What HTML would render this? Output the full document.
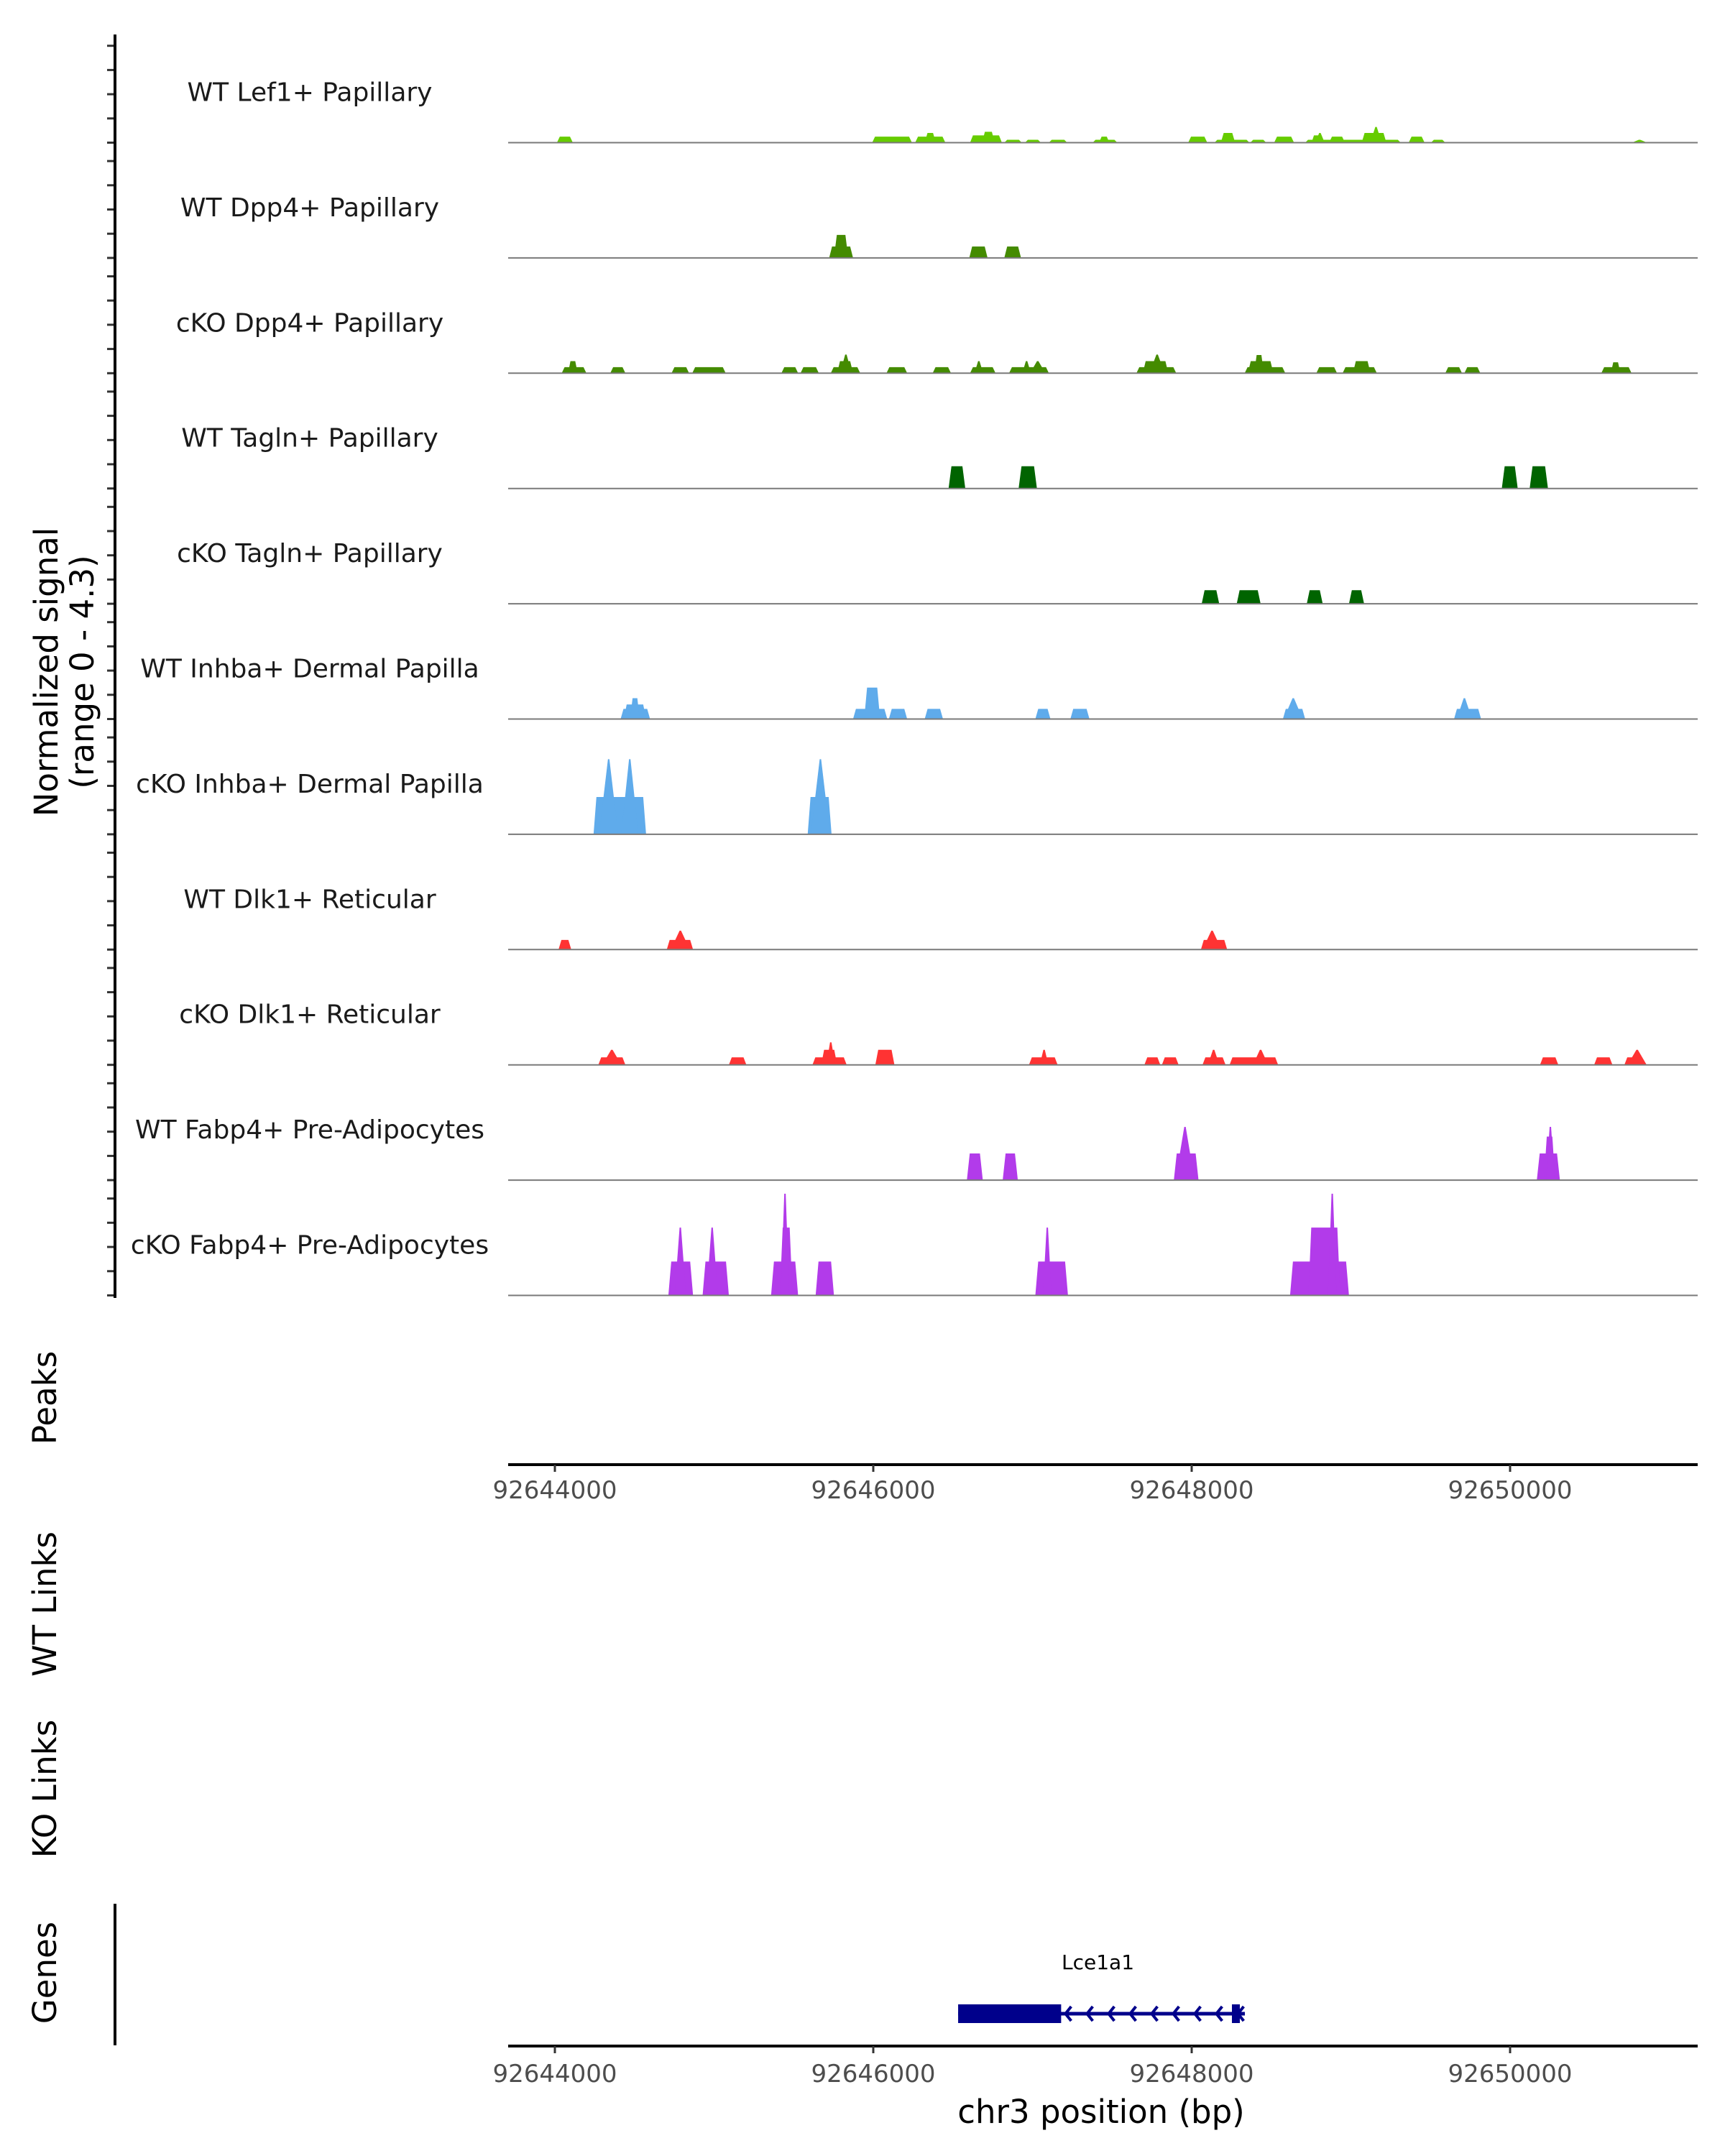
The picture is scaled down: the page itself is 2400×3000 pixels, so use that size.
<!DOCTYPE html>
<html><head><meta charset="utf-8"><style>
html,body{margin:0;padding:0;background:#fff}
svg{display:block}
text{font-family:"DejaVu Sans","Liberation Sans",sans-serif}
</style></head><body>
<svg id="chart" xmlns="http://www.w3.org/2000/svg" width="2400" height="3000" viewBox="0 0 2400 3000">
<g id="tracks"></g>
<g id="axes"></g>
</svg>
<script>
const trackNames = ["WT Lef1+ Papillary","WT Dpp4+ Papillary","cKO Dpp4+ Papillary","WT Tagln+ Papillary","cKO Tagln+ Papillary","WT Inhba+ Dermal Papilla","cKO Inhba+ Dermal Papilla","WT Dlk1+ Reticular","cKO Dlk1+ Reticular","WT Fabp4+ Pre-Adipocytes","cKO Fabp4+ Pre-Adipocytes"];
const trackColors = ["#66cc00","#448b00","#448b00","#006400","#006400","#5fabeb","#5fabeb","#ff3333","#ff3333","#b23bea","#b23bea"];
// each segment: [startBp, endBp, signal]
const lef1WT = [[92644040,92644140,0.25],[92646020,92646270,0.25],[92646290,92646480,0.25],[92646350,92646420,0.4],[92646635,92646835,0.3],[92646710,92646790,0.45],[92646850,92646960,0.12],[92646980,92647080,0.12],[92647130,92647245,0.12],[92647405,92647560,0.12],[92647445,92647510,0.25],[92648005,92648125,0.25],[92648170,92648390,0.12],[92648210,92648300,0.4],[92648395,92648495,0.12],[92648545,92648670,0.25],[92648740,92649340,0.12],[92648780,92648840,0.3],[92648820,92648845,0.4],[92648890,92648990,0.25],[92649095,92649250,0.4],[92649170,92649200,0.65],[92649390,92649490,0.25],[92649530,92649620,0.12],[92650820,92650860,0.12]];
const dpp4WT = [[92645750,92645900,0.47],[92645780,92645870,0.95],[92646630,92646745,0.47],[92646850,92646955,0.47]];
const dpp4KO = [[92644070,92644225,0.25],[92644110,92644170,0.5],[92644375,92644470,0.25],[92644760,92644870,0.25],[92644890,92645100,0.25],[92645450,92645555,0.25],[92645570,92645685,0.25],[92645760,92645945,0.25],[92645800,92645900,0.5],[92645840,92645870,0.77],[92646110,92646240,0.25],[92646400,92646515,0.25],[92646635,92646795,0.25],[92646680,92646700,0.5],[92646880,92647130,0.25],[92646985,92646995,0.5],[92647040,92647080,0.5],[92647680,92647930,0.25],[92647720,92647880,0.5],[92647790,92647830,0.77],[92648360,92648615,0.25],[92648380,92648540,0.5],[92648420,92648480,0.75],[92648810,92648940,0.25],[92648975,92649190,0.25],[92649040,92649150,0.5],[92649620,92649725,0.25],[92649740,92649840,0.25],[92650600,92650790,0.25],[92650660,92650720,0.45]];
const taglnWT = [[92646500,92646605,0.92],[92646940,92647055,0.92],[92649975,92650075,0.92],[92650150,92650265,0.92]];
const taglnKO = [[92648090,92648200,0.56],[92648310,92648460,0.56],[92648750,92648850,0.56],[92649015,92649110,0.56]];
const inhbaWT = [[92644440,92644625,0.42],[92644460,92644600,0.6],[92644500,92644560,0.86],[92645900,92646115,0.42],[92645970,92646070,1.3],[92646125,92646240,0.42],[92646350,92646465,0.42],[92647045,92647140,0.42],[92647265,92647385,0.42],[92648600,92648740,0.42],[92648640,92648690,0.86],[92649675,92649845,0.42],[92649720,92649760,0.86]];
const inhbaKO = [[92644270,92644600,1.54],[92644340,92644390,3.1],[92644475,92644520,3.1],[92645615,92645765,1.54],[92645670,92645720,3.1]];
const dlk1WT = [[92644050,92644130,0.4],[92644730,92644895,0.4],[92644790,92644840,0.78],[92648085,92648250,0.4],[92648130,92648180,0.78]];
const dlk1KO = [[92644300,92644470,0.31],[92644360,92644410,0.62],[92645120,92645230,0.31],[92645645,92645860,0.31],[92645700,92645800,0.62],[92645750,92645770,0.93],[92646040,92646160,0.62],[92647005,92647185,0.31],[92647090,92647110,0.62],[92647730,92647830,0.31],[92647840,92647945,0.31],[92648095,92648240,0.31],[92648150,92648180,0.62],[92648265,92648570,0.31],[92648440,92648480,0.62],[92650215,92650330,0.31],[92650555,92650670,0.31],[92650745,92650850,0.31],[92650800,92650850,0.62]];
const fabp4WT = [[92646615,92646715,1.1],[92646840,92646935,1.1],[92647915,92648070,1.1],[92647960,92648010,2.2],[92650195,92650340,1.1],[92650240,92650310,1.8],[92650270,92650290,2.2]];
const fabp4KO = [[92644740,92644895,1.4],[92644800,92644830,2.8],[92644955,92645120,1.4],[92645000,92645030,2.8],[92645385,92645555,1.4],[92645440,92645520,2.8],[92645465,92645480,4.2],[92645665,92645780,1.4],[92647045,92647250,1.4],[92647110,92647130,2.8],[92648645,92649015,1.4],[92648760,92648960,2.8],[92648900,92648920,4.2]];
const xTicks = [92644000,92646000,92648000,92650000];
const yTicks = [0,1,2,3,4];
const gene = ["Lce1a1",92646533,92647180,92648334];

const allTracks=[lef1WT,dpp4WT,dpp4KO,taglnWT,taglnKO,inhbaWT,inhbaKO,dlk1WT,dlk1KO,fabp4WT,fabp4KO];
const NS="http://www.w3.org/2000/svg";
const xs = bp => 772 + (bp-92644000)*0.2215;
const MARK_SHIFT = -6;
const base = i => 198.5 + 160.4*i;
const ys = (i,v) => base(i) - v*33.7;
function mk(tag, attrs, parent){const e=document.createElementNS(NS,tag);for(const k in attrs)e.setAttribute(k,attrs[k]);parent.appendChild(e);return e;}
const T=document.getElementById('tracks'), A=document.getElementById('axes');

allTracks.forEach((segs,i)=>{
  const lbl=mk('text',{x:431,y:base(i)-58,'text-anchor':'middle','font-size':36,fill:'#1a1a1a'},T);
  lbl.textContent=trackNames[i];
  
  
  segs.forEach(s=>{
    let x0=xs(s[0])+MARK_SHIFT,x1=xs(s[1])+MARK_SHIFT;
    const y=ys(i,s[2]),b=base(i);
    let pts;
    if(x1-x0<12){
      const c=(x0+x1)/2, hw=Math.max(6,(x1-x0)*1.2);
      pts=`${c-hw},${b} ${c-1},${y} ${c+1},${y} ${c+hw},${b}`;
    } else {
      const t=Math.min(4,(x1-x0)/4);
      pts=`${x0},${b} ${x0+t},${y} ${x1-t},${y} ${x1},${b}`;
    }
    const p=mk('polygon',{points:pts,fill:trackColors[i]},T);
    
    
  });
  const bl=mk('line',{x1:707,x2:2362,y1:base(i),y2:base(i),stroke:'#7a7a7a','stroke-width':2},T);
  
  
  yTicks.forEach(v=>{
    const tk=mk('line',{x1:149,x2:160,y1:ys(i,v),y2:ys(i,v),stroke:'#333','stroke-width':3},A);
    
    
  });
});
const ax=mk('line',{x1:160,x2:160,y1:48,y2:1806,stroke:'#000','stroke-width':4},A);


const gax=mk('line',{x1:160,x2:160,y1:2649,y2:2846,stroke:'#000','stroke-width':4},A);


const yt=mk('text',{transform:'translate(80,935) rotate(-90)','text-anchor':'middle','font-size':45,fill:'#000'},A);
yt.textContent='Normalized signal';


const yt2=mk('text',{transform:'translate(130,935) rotate(-90)','text-anchor':'middle','font-size':45,fill:'#000'},A);
yt2.textContent='(range 0 - 4.3)';


[["Peaks",1945],["WT Links",2232],["KO Links",2489],["Genes",2745]].forEach(([t,y])=>{
  const e=mk('text',{transform:`translate(78,${y}) rotate(-90)`,'text-anchor':'middle','font-size':45,fill:'#000'},A);
  e.textContent=t;
  
  
});
[[2038,2085],[2847,2897]].forEach(([ay,ly])=>{
  const l=mk('line',{x1:707,x2:2362,y1:ay,y2:ay,stroke:'#000','stroke-width':4},A);
  
  
  xTicks.forEach(v=>{
    const tk=mk('line',{x1:xs(v),x2:xs(v),y1:ay,y2:ay+10,stroke:'#333','stroke-width':3},A);
    
    
    const tl=mk('text',{x:xs(v),y:ly,'text-anchor':'middle','font-size':34,fill:'#4d4d4d'},A);
    tl.textContent=String(v);
    
    
  });
});
const xt=mk('text',{x:1532,y:2954,'text-anchor':'middle','font-size':45,fill:'#000'},A);
xt.textContent='chr3 position (bp)';


const gy=2802;
const gl=mk('text',{x:(xs(gene[1])+xs(gene[3]))/2-5,y:2740,'text-anchor':'middle','font-size':28,'font-family':'DejaVu Sans Mono, Liberation Mono, monospace',fill:'#000'},A);
gl.textContent=gene[0];


const gline=mk('line',{x1:xs(gene[1]),x2:xs(gene[3]),y1:gy,y2:gy,stroke:'#00008b','stroke-width':5},A);


const ex=mk('rect',{x:xs(gene[1]),y:gy-13,width:xs(gene[2])-xs(gene[1]),height:26,fill:'#00008b'},A);


const ex2=mk('rect',{x:xs(gene[3])-18,y:gy-13,width:11,height:26,fill:'#00008b'},A);


for(let x=xs(gene[2])+6;x<xs(gene[3]);x+=30){
  const ar=mk('polyline',{points:`${x+8},${gy-10} ${x},${gy} ${x+8},${gy+10}`,fill:'none',stroke:'#00008b','stroke-width':4},A);
  
  
}
</script>
</body></html>
